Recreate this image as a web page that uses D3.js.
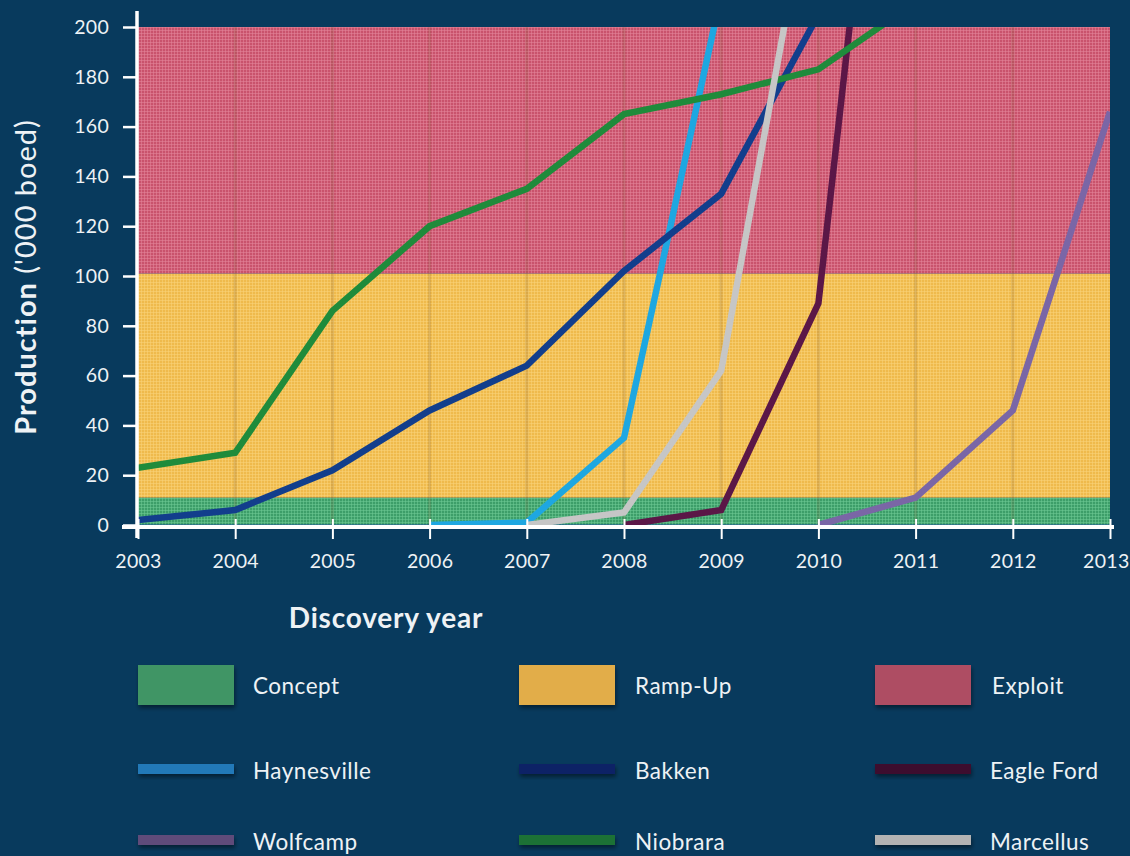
<!DOCTYPE html>
<html><head><meta charset="utf-8">
<script src="https://cdn.jsdelivr.net/npm/d3@7"></script>
<style>
html,body{margin:0;padding:0;background:#083a5d;}
svg{display:block;}
text{font-family:"Lato","Open Sans",sans-serif;fill:#eef2f5;}
</style></head>
<body>
<script>
// ---- data ----
const years = [2003,2004,2005,2006,2007,2008,2009,2010,2011,2012,2013];
const yTicks = [0,20,40,60,80,100,120,140,160,180,200];
const bandNames = ["Concept","Ramp-Up","Exploit"];
const bandLow = [0,11,101];
const bandHigh = [11,101,200];
const bandBase = ["#3d9e69","#efba4c","#c9536c"];
const bandLight = ["#6dc995","#f9d37a","#e4879a"];
const bandLegend = ["#3f9565","#e2ad4a","#ae4d64"];

const seriesNames = ["Haynesville","Bakken","Eagle Ford","Wolfcamp","Niobrara","Marcellus"];
const haynesvilleYears = [2006,2007,2008,2009];
const haynesvilleVals  = [0,1,35,213];
const bakkenYears = [2003,2004,2005,2006,2007,2008,2009,2010];
const bakkenVals  = [2,6,22,46,64,102,133,205];
const eagleFordYears = [2008,2009,2010,2011];
const eagleFordVals  = [0,6,89,435];
const wolfcampYears = [2010,2011,2012,2013];
const wolfcampVals  = [0,11,46,166];
const niobraraYears = [2003,2004,2005,2006,2007,2008,2009,2010,2011];
const niobraraVals  = [23,29,86,120,135,165,173,183,210];
const marcellusYears = [2007,2008,2009,2010];
const marcellusVals  = [0,5,62,275];
const seriesYears = [haynesvilleYears,bakkenYears,eagleFordYears,wolfcampYears,niobraraYears,marcellusYears];
const seriesVals = [haynesvilleVals,bakkenVals,eagleFordVals,wolfcampVals,niobraraVals,marcellusVals];
const lineColors = ["#1ea7e1","#123e8c","#5b1747","#7a66a6","#1f8b3b","#c6c6c6"];
const legendColors = ["#2079b8","#112466","#3c0a2e","#5f4b7a","#1e7135","#b3b3b3"];

// ---- layout ----
const W = 1130, H = 856;
const svg = d3.select("body").append("svg").attr("width",W).attr("height",H);
const x = d3.scaleLinear().domain([2003,2013]).range([138,1110]);
const y = d3.scaleLinear().domain([0,200]).range([525,27]);

const defs = svg.append("defs");
bandNames.forEach((n,i)=>{
  const p = defs.append("pattern").attr("id","pat"+i).attr("patternUnits","userSpaceOnUse")
    .attr("width",3).attr("height",3);
  p.append("rect").attr("width",3).attr("height",3).attr("fill",bandBase[i]);
  p.append("rect").attr("x",0).attr("y",0).attr("width",3).attr("height",1).attr("fill",bandLight[i]).attr("opacity",0.55);
  p.append("rect").attr("x",0).attr("y",0).attr("width",1).attr("height",3).attr("fill",bandLight[i]).attr("opacity",0.55);
});
defs.append("clipPath").attr("id","clip").append("rect")
  .attr("x",x(2003)).attr("y",y(200)).attr("width",x(2013)-x(2003)).attr("height",y(0)-y(200)+2);
const sh = defs.append("filter").attr("id","shadow").attr("x","-20%").attr("y","-20%").attr("width","140%").attr("height","180%");
sh.append("feDropShadow").attr("dx",1).attr("dy",3).attr("stdDeviation",2).attr("flood-color","#000").attr("flood-opacity",0.45);

// bands
const plot = svg.append("g");
bandNames.forEach((n,i)=>{
  plot.append("rect").attr("x",x(2003)).attr("width",x(2013)-x(2003))
    .attr("y",y(bandHigh[i])).attr("height",y(bandLow[i])-y(bandHigh[i]))
    .attr("fill","url(#pat"+i+")");
});
// subtle vertical stripes at years
plot.selectAll("line.vs").data(years.slice(1,-1)).enter().append("line")
  .attr("x1",d=>x(d)).attr("x2",d=>x(d)).attr("y1",y(200)).attr("y2",y(0))
  .attr("stroke","#7a5a30").attr("stroke-opacity",0.18).attr("stroke-width",3);
// thin baseline
plot.append("line").attr("x1",x(2003)).attr("x2",x(2013)).attr("y1",y(0)+0.5).attr("y2",y(0)+0.5)
  .attr("stroke","#1d4f9a").attr("stroke-width",2);

// lines
const lineGen = d3.line().x(d=>x(d[0])).y(d=>y(d[1]));
const lg = svg.append("g").attr("clip-path","url(#clip)");
seriesNames.forEach((n,i)=>{
  const pts = seriesYears[i].map((yr,j)=>[yr,seriesVals[i][j]]);
  lg.append("path").attr("d",lineGen(pts)).attr("fill","none")
    .attr("stroke",lineColors[i]).attr("stroke-width",6.5).attr("stroke-linejoin","miter");
});

// axes
const yAxis = d3.axisLeft(y).tickValues(yTicks).tickSize(14).tickPadding(14);
const gy = svg.append("g").attr("transform","translate(137,0)").call(yAxis);
gy.select(".domain").remove();
gy.selectAll(".tick line").attr("stroke","#fff").attr("stroke-width",2.5);
gy.selectAll(".tick text").attr("font-size",19.5).style("fill","#eef2f5")
  .attr("font-family","Lato, sans-serif").attr("letter-spacing","0.3px");
svg.append("line").attr("x1",137).attr("x2",137).attr("y1",11).attr("y2",538).attr("stroke","#fff").attr("stroke-width",3.5);

const xAxis = d3.axisBottom(x).tickValues(years).tickFormat(d3.format("d")).tickSize(12).tickPadding(15);
const gx = svg.append("g").attr("transform","translate(0,527)").call(xAxis);
gx.select(".domain").remove();
gx.selectAll(".tick line").attr("stroke","#fff").attr("stroke-width",2).attr("y1",-8);
gx.selectAll(".tick text").attr("font-size",19.5).style("fill","#eef2f5")
  .attr("font-family","Lato, sans-serif").attr("letter-spacing","0.3px");
gx.selectAll(".tick text").filter(d=>d===2013).attr("text-anchor","end").attr("x",19);
svg.append("line").attr("x1",122).attr("x2",1114).attr("y1",527).attr("y2",527).attr("stroke","#fff").attr("stroke-width",4);

// axis titles
const yt = svg.append("text").attr("transform","translate(36,277) rotate(-90)").attr("text-anchor","middle")
  .attr("font-size",29).attr("letter-spacing","1px");
yt.append("tspan").attr("font-weight","bold").text("Production");
yt.append("tspan").text(" ('000 boed)");
svg.append("text").attr("x",386).attr("y",628).attr("text-anchor","middle").attr("font-size",28)
  .attr("font-weight","bold").attr("letter-spacing","0.8px").text("Discovery year");

// legend
const colX = [138,519,875];
const labX = [253,635,992];
const leg = svg.append("g");
bandNames.forEach((n,i)=>{
  leg.append("rect").attr("x",colX[i]).attr("y",665).attr("width",96).attr("height",40)
    .attr("fill",bandLegend[i]).attr("filter","url(#shadow)");
  leg.append("text").attr("x",labX[i]).attr("y",694).attr("font-size",22.5).attr("letter-spacing","0.5px").text(n);
});
seriesNames.forEach((n,i)=>{
  const c = i%3, r = Math.floor(i/3);
  const yy = [764,835][r];
  leg.append("rect").attr("x",colX[c]).attr("y",yy).attr("width",96).attr("height",10)
    .attr("fill",legendColors[i]).attr("filter","url(#shadow)");
  leg.append("text").attr("x",labX[c]-(c===2?2:0)).attr("y",yy+15).attr("font-size",22.5).attr("letter-spacing","0.5px").text(n);
});
</script>
</body></html>
